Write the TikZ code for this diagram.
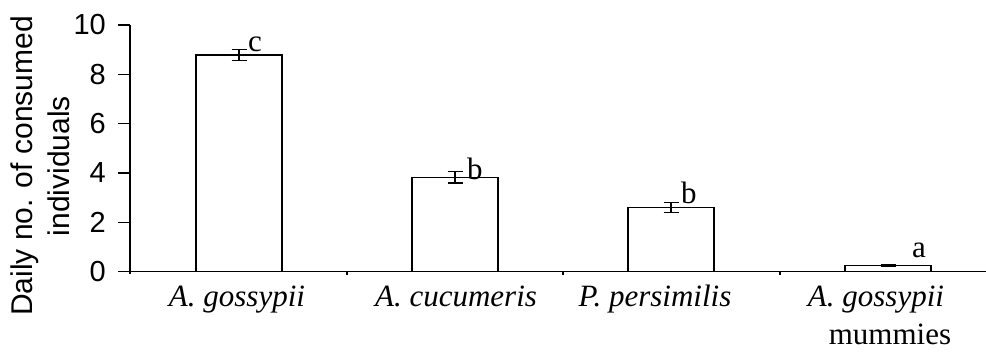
\documentclass[tikz,border=0pt]{standalone}
\usepackage{fontspec}
\setmainfont{Liberation Serif}
\setsansfont{Liberation Sans}
\usetikzlibrary{calc}
\tikzset{
  chart line/.style={
    line width=1.4pt,
    black
  },
  bar box/.style={
    chart line,
    fill=white
  },
  tick label/.style={
    font=\sffamily\fontsize{29}{29}\selectfont,
    anchor=east,
    inner sep=0pt
  },
  axis title/.style={
    font=\sffamily\fontsize{30}{37}\selectfont,
    align=center,
    rotate=90,
    inner sep=0pt
  },
  cat label/.style={
    font=\fontsize{31}{31}\selectfont,
    anchor=base,
    inner sep=0pt
  },
  sig letter/.style={
    font=\fontsize{31}{31}\selectfont,
    anchor=base west,
    inner sep=0pt
  }
}

\begin{document}
\begin{tikzpicture}[x=1pt,y=1pt]
\useasboundingbox (0,0) rectangle (986,351);
\begin{scope}[shift={(130,79.3)}, y=24.67pt]
\draw[chart line] (0,-0.1) -- (0,10);
\foreach \v in {0,2,...,10} {
  \draw[chart line] (-12,\v) -- (0,\v);
  \node[tick label] (tick\v) at (-24,\v) {\v};
}
\draw[chart line] (-12,0) -- (856,0);
\foreach \x in {217,433,650}
  \draw[chart line] (\x,0) -- (\x,-0.12);
\foreach \c/\h/\e in {109/8.78/0.22, 325/3.83/0.24, 541/2.6/0.21, 758/0.24/0.04} {
  \draw[bar box] (\c-43,0) rectangle (\c+43,\h);
  \draw[chart line] (\c,\h-\e) -- (\c,\h+\e)
    (\c-7.5,\h-\e) -- (\c+7.5,\h-\e)
    (\c-7.5,\h+\e) -- (\c+7.5,\h+\e);
}
\end{scope}
\node[axis title] (ytitle) at (40,185) {Daily no. of consumed\\individuals};
\node[cat label] (catA) at (237,45) {\itshape A. gossypii};
\node[cat label] (catB) at (456,45) {\itshape A. cucumeris};
\node[cat label] (catC) at (655,45) {\itshape P. persimilis};
\node[cat label] (catD) at (876,45) {\itshape A. gossypii};
\node[cat label] (catDb) at (890,6) {mummies};
\node[sig letter] (sigA) at (248,299) {c};
\node[sig letter] (sigB) at (467,171) {b};
\node[sig letter] (sigC) at (681,147.7) {b};
\node[sig letter] (sigD) at (912,93) {a};
\end{tikzpicture}
\end{document}
